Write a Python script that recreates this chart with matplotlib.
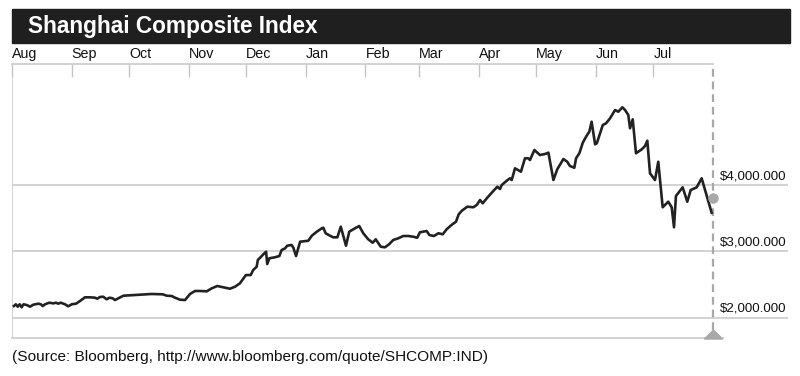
import matplotlib.pyplot as plt
import matplotlib.transforms as mtransforms
from matplotlib.patches import Rectangle
import pandas as pd

plt.rcParams['font.family'] = ['Liberation Sans', 'DejaVu Sans']

START = pd.Timestamp('2014-08-01')

# days since Aug 1 2014, index close
days = [
    1, 2, 3, 4, 5, 6, 7.7, 9.4, 11.1, 13.7, 15, 16, 17.2, 19.4, 21.5, 22.9, 24.1, 25.4,
    27.6, 29.3, 31.1, 33.3, 35.4, 38, 40.6, 43.2, 44.4, 45.8, 47.5, 49.3, 50.7, 52.4,
    53.6, 55.4, 58, 66.6, 72.7, 78.5, 80.6, 83.2, 84.9, 87.5, 90.1, 92.7, 95.3, 97.9,
    101.4, 104, 106.9, 110, 113.5, 116.1, 118.7, 121.8, 124.3, 125.6, 127.4, 128, 130.9,
    132.3, 132.9, 134, 136.9, 139.2, 140.4, 142.2, 143.3, 145.6, 146.5, 147.9, 150,
    154.3, 156.1, 158.7, 161.3, 162.1, 163.3, 165.6, 167.3, 169.4, 171.2, 173.9, 175.6,
    178.6, 180.8, 182.9, 185.5, 187.8, 189.4, 192, 194.2, 196.5, 198.5, 201.1, 203.7,
    206.4, 209, 211, 212.4, 215.9, 217.3, 219.7, 222, 224.3, 226.3, 228.9, 231.2, 232.6,
    234.2, 237.1, 240.2, 242, 243.7, 245.1, 247.2, 250.6, 252.7, 254.1, 255, 257.6,
    259.3, 260.2, 261.9, 265, 267.1, 268.8, 269.7, 272, 274.9, 277.5, 279.3, 281.9,
    283.9, 287.1, 289.1, 290.5, 292.8, 293.7, 295.4, 297.2, 299.2, 300.6, 301.8, 303.6,
    304.5, 307.6, 309.3, 311.4, 314, 315.7, 317.8, 319.2, 320.9, 321.8, 323.2, 324.9,
    327.9, 329.6, 330.8, 332.2, 334.8, 336.5, 338.8, 341.7, 343.5, 344.7, 345.7, 349.2,
    351.6, 353.4, 356.5, 359.1, 364.3,
]
closes = [
    2180, 2206, 2170, 2206, 2161, 2206, 2195, 2170, 2200, 2215, 2206, 2180, 2206, 2230,
    2220, 2230, 2215, 2230, 2206, 2176, 2206, 2215, 2255, 2311, 2311, 2305, 2290, 2316,
    2320, 2281, 2305, 2296, 2270, 2296, 2335, 2350, 2361, 2356, 2335, 2330, 2305, 2275,
    2270, 2361, 2406, 2406, 2401, 2446, 2481, 2461, 2440, 2470, 2522, 2646, 2646, 2722,
    2771, 2872, 2958, 2997, 2812, 2898, 2913, 2932, 3022, 3048, 3087, 3098, 3057, 2932,
    3147, 3162, 3237, 3298, 3349, 3358, 3274, 3237, 3213, 3213, 3373, 3087, 3298, 3349,
    3383, 3274, 3183, 3132, 3183, 3072, 3063, 3113, 3173, 3198, 3233, 3233, 3222, 3207,
    3289, 3308, 3248, 3233, 3274, 3259, 3334, 3400, 3448, 3560, 3613, 3674, 3665, 3700,
    3774, 3725, 3800, 3910, 3974, 3940, 4000, 4065, 4101, 4075, 4251, 4200, 4402, 4402,
    4376, 4526, 4451, 4466, 4486, 4075, 4236, 4391, 4350, 4286, 4260, 4402, 4477, 4636,
    4741, 4802, 4952, 4612, 4627, 4902, 4928, 5003, 5128, 5102, 5169, 5128, 5053, 4853,
    4988, 4477, 4537, 4587, 4666, 4176, 4075, 4350, 3665, 3749, 3665, 3364, 3835, 3965,
    3749, 3925, 3965, 4101, 3583,
]

month_labels = ['Aug', 'Sep', 'Oct', 'Nov', 'Dec', 'Jan', 'Feb', 'Mar', 'Apr', 'May', 'Jun', 'Jul']
grid_values = [2000, 3000, 4000]
end_day = 365
marker_value = 3805

title = 'Shanghai Composite Index'
source = '(Source: Bloomberg, http://www.bloomberg.com/quote/SHCOMP:IND)'

month_days = (pd.date_range(START, periods=12, freq='MS') - START).days

W, H = 800, 376
fig = plt.figure(figsize=(W / 100, H / 100), dpi=100)
ax = fig.add_axes([12 / W, 1 - 338 / H, 776 / W, 274 / H])
ax.set_xlim(0, end_day * 776 / 701)
ax.set_ylim(1699, 5820)
for s in ax.spines.values():
    s.set_visible(False)
ax.set_yticks([])

grid_c = '#cfcfcf'
xa = mtransforms.blended_transform_factory(ax.transData, ax.transAxes)
ya = mtransforms.blended_transform_factory(ax.transAxes, ax.transData)

for v in grid_values:
    ax.axhline(v, color=grid_c, lw=1.3, zorder=1)
    ax.text(0.9124, v, f'${v:,.3f}', ha='left', va='baseline', fontsize=9.6, color='#111111',
            transform=mtransforms.offset_copy(ya, fig=fig, y=6, units='dots'))
ax.axvline(0, color=grid_c, lw=1.3, zorder=1)
ax.plot([0, end_day], [1, 1], transform=xa, color=grid_c, lw=1.3, zorder=1, clip_on=False)
ax.plot([0, end_day + 5], [0, 0], transform=xa, color=grid_c, lw=1.3, zorder=1, clip_on=False)

ax.xaxis.tick_top()
ax.set_xticks(month_days, month_labels)
ax.tick_params(axis='x', direction='in', length=9.5, width=1, color='#c4c4c4',
               pad=2.5, labelsize=10.3, labelcolor='#111111')
for t in ax.get_xticklabels():
    t.set_ha('left')

ax.plot(days, closes, color='#222222', lw=1.9, zorder=3)

ax.plot([end_day, end_day], [0.03, 1], transform=xa, color='#a8a8a8', lw=1.6,
        dashes=(3.5, 2.2), zorder=2, clip_on=False)
ax.plot(end_day, marker_value, 'o', ms=6.5, color='#a8a8a8', zorder=4)
tri = [(-1, -0.5), (1, -0.5), (0, 0.5), (-1, -0.5)]
ax.plot([end_day], [0.0128], transform=xa, marker=tri, ms=13, color='#a8a8a8',
        lw=0, zorder=4, clip_on=False)

fig.patches.append(Rectangle((12 / W, 1 - 43 / H), 778 / W, 34 / H,
                             transform=fig.transFigure, color='#1f1f1f', zorder=0))
fig.text(28 / W, 1 - 27 / H, title, color='white', fontsize=16.3, fontweight='bold',
         va='center', ha='left')
fig.text(12 / W, 1 - 357 / H, source, fontsize=11.1, color='#111111', va='center', ha='left')

fig.savefig('out.png', dpi=100)
